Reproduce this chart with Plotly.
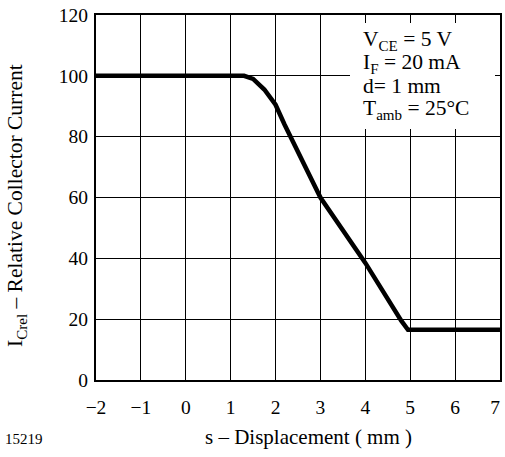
import plotly.graph_objects as go

# data
displacement = [-2, 1.3, 1.5, 1.75, 2.0, 2.2, 3.0, 4.0, 4.8, 4.95, 7.0]
rel_current = [100, 100, 99, 95.5, 90.5, 84, 60, 38.5, 19.5, 16.5, 16.5]
x_ticks = [-2, -1, 0, 1, 2, 3, 4, 5, 6, 7]
x_tick_text = ["\u22122", "\u22121", "0", "1", "2", "3", "4", "5", "6", "7\u2002"]
y_ticks = [0, 20, 40, 60, 80, 100, 120]
conditions = ["V<sub>CE</sub> = 5 V", "I<sub>F</sub> = 20 mA", "d= 1 mm", "T<sub>amb</sub> = 25°C"]

FONT = "Liberation Serif"
W, H = 505, 457
L, R, T, B = 96, 5, 15, 77

fig = go.Figure()
fig.add_trace(go.Scatter(x=displacement, y=rel_current, mode="lines",
                         line=dict(color="black", width=4.5), hoverinfo="skip"))

fig.update_layout(
    width=W, height=H, margin=dict(l=L, r=R, t=T, b=B, autoexpand=False),
    paper_bgcolor="white", plot_bgcolor="white", showlegend=False,
    font=dict(family=FONT, size=19.5, color="black"),
)
fig.update_xaxes(range=[-2, 7.0005], tickvals=x_ticks, ticktext=x_tick_text,
                 showgrid=True, gridcolor="black", gridwidth=1,
                 showline=True, linecolor="black", linewidth=2, mirror=True,
                 ticks="", zeroline=False, ticklabelstandoff=9,
                 ticklabeloverflow="allow", automargin=False)
fig.update_yaxes(range=[0, 120], tickvals=y_ticks,
                 showgrid=True, gridcolor="black", gridwidth=1,
                 showline=True, linecolor="black", linewidth=2, mirror=True,
                 ticks="", zeroline=False, ticklabelstandoff=2, automargin=False)

pw = W - L - R
ph = H - T - B
def px(xp):
    return (xp - L) / pw
def py(yp):
    return (H - B - yp) / ph

# white box behind conditions text
fig.add_shape(type="rect", xref="paper", yref="paper",
              x0=px(350), x1=px(495), y0=py(129), y1=py(23),
              fillcolor="white", line=dict(width=0), layer="above")

line_y = [40, 63, 86, 109]
for txt, yy in zip(conditions, line_y):
    fig.add_annotation(xref="paper", yref="paper", x=px(361), y=py(yy),
                       xanchor="left", yanchor="middle", align="left", showarrow=False,
                       text=txt, font=dict(family=FONT, size=21.5))

fig.add_annotation(xref="paper", yref="paper", x=px(308), y=py(437),
                   xanchor="center", yanchor="middle", showarrow=False,
                   text="s \u2013 Displacement ( mm )", font=dict(family=FONT, size=21))
fig.add_annotation(xref="paper", yref="paper", x=px(17), y=py(206),
                   xanchor="center", yanchor="middle", showarrow=False, textangle=-90,
                   text="I<sub>Crel</sub> \u2013 Relative Collector Current",
                   font=dict(family=FONT, size=21.5))
fig.add_annotation(xref="paper", yref="paper", x=px(3), y=py(439),
                   xanchor="left", yanchor="middle", showarrow=False,
                   text="15219", font=dict(family=FONT, size=15))

fig.write_html("out.html", config={"displayModeBar": False},
               post_script="document.body.style.margin='0';")
